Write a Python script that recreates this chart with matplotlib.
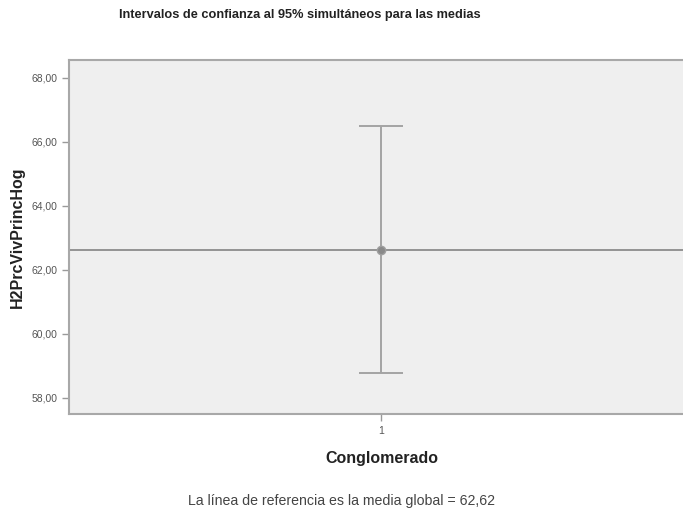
import matplotlib
matplotlib.use("Agg")
import matplotlib.pyplot as plt
from matplotlib.ticker import FuncFormatter

plt.rcParams['font.family'] = ['Liberation Sans', 'DejaVu Sans']

# cluster means with simultaneous 95% intervals
clusters = [1]
means = [62.62]
lower = [58.77]
upper = [66.49]
grand_mean = 62.62
yticks = [58, 60, 62, 64, 66, 68]

fig = plt.figure(figsize=(6.83, 5.14), dpi=100)
ax = fig.add_axes([69 / 683, 1 - 414 / 514, 624 / 683, 354 / 514])
ax.set_facecolor('#efefef')

err_lo = [m - l for m, l in zip(means, lower)]
err_hi = [u - m for m, u in zip(means, upper)]
ax.axhline(grand_mean, color='#8c8c8c', lw=1.3, zorder=2)
ax.errorbar(clusters, means, yerr=[err_lo, err_hi], fmt='o', color='#a3a3a3',
            ecolor='#a3a3a3', elinewidth=1.4, capsize=16, capthick=1.4,
            markersize=6, markerfacecolor='#8a8a8a', markeredgecolor='#a0a0a0',
            zorder=3)

ax.set_xlim(0.5, 1.5)
ax.set_ylim(57.5, 68.56)
ax.set_xticks(clusters)
ax.set_xticklabels([str(c) for c in clusters])
ax.set_yticks(yticks)
ax.yaxis.set_major_formatter(FuncFormatter(lambda v, p: f'{v:.2f}'.replace('.', ',')))
ax.tick_params(axis='both', colors='#9a9a9a', labelcolor='#555555', labelsize=7.5,
               length=5, width=1)

for side in ax.spines.values():
    side.set_color('#a8a8a8')
    side.set_linewidth(1.5)

fig.text(300 / 683, 1 - 15 / 514, 'Intervalos de confianza al 95% simultáneos para las medias',
         ha='center', va='center', fontsize=9.2, fontweight='bold', color='#222222')
fig.text(17 / 683, 1 - 237 / 514, 'H2PrcVivPrincHog', rotation=90, ha='center', va='center',
         fontsize=11.5, fontweight='bold', color='#222222')
fig.text(382 / 683, 1 - 459 / 514, 'Conglomerado', ha='center', va='center',
         fontsize=11.5, fontweight='bold', color='#222222')
fig.text(342 / 683, 1 - 501 / 514,
         'La línea de referencia es la media global = ' + f'{grand_mean:.2f}'.replace('.', ','),
         ha='center', va='center', fontsize=10.2, color='#444444')

fig.savefig('out.png', dpi=100)
